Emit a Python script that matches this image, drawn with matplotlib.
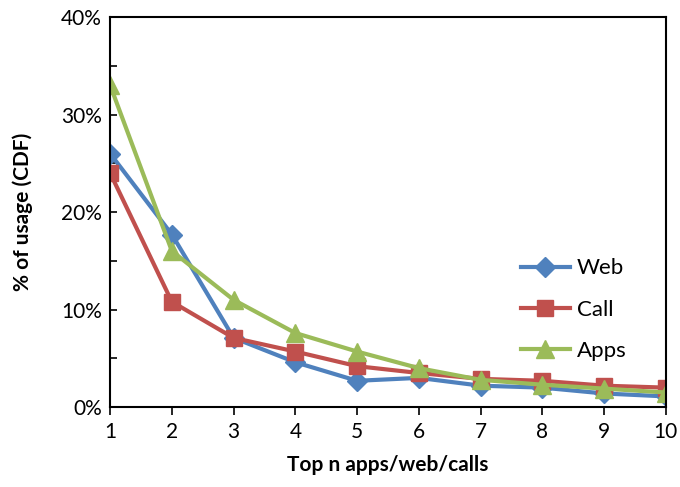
import matplotlib
matplotlib.use("Agg")
import matplotlib.pyplot as plt
from matplotlib.ticker import MultipleLocator, FuncFormatter

plt.rcParams['font.family'] = ['Lato', 'DejaVu Sans']

top_n = [1, 2, 3, 4, 5, 6, 7, 8, 9, 10]
web = [26.0, 17.7, 7.1, 4.6, 2.7, 3.0, 2.2, 2.0, 1.4, 1.1]
call = [24.0, 10.8, 7.1, 5.7, 4.2, 3.5, 2.9, 2.7, 2.2, 2.0]
apps = [33.0, 16.0, 11.0, 7.6, 5.7, 4.0, 2.8, 2.3, 1.9, 1.5]

fig = plt.figure(figsize=(6.8, 4.87), dpi=100)
ax = fig.add_axes([0.162, 0.164, 0.817, 0.801])

ax.plot(top_n, web, color='#4F81BD', lw=3, marker='D', ms=10, label='Web')
ax.plot(top_n, call, color='#C0504D', lw=3, marker='s', ms=11, label='Call')
ax.plot(top_n, apps, color='#9BBB59', lw=3, marker='^', ms=13, label='Apps')

ax.set_xlim(1, 10)
ax.set_ylim(0, 40)
ax.set_xticks(top_n)
ax.yaxis.set_major_locator(MultipleLocator(10))
ax.yaxis.set_minor_locator(MultipleLocator(5))
ax.yaxis.set_major_formatter(FuncFormatter(lambda v, p: f"{v:.0f}%"))
ax.tick_params(axis='y', which='both', direction='in', length=5, width=1.2, labelsize=15, pad=6)
ax.tick_params(axis='x', direction='out', length=6, width=1.2, labelsize=15, pad=5)
for s in ax.spines.values():
    s.set_linewidth(1.5)

ax.set_xlabel('Top n apps/web/calls', fontsize=15, fontweight='bold', labelpad=9)
ax.set_ylabel('% of usage (CDF)', fontsize=15, fontweight='bold', labelpad=20)

ax.legend(loc='center right', bbox_to_anchor=(0.965, 0.25), frameon=False,
          fontsize=16, handlelength=2.2, labelspacing=0.95, handletextpad=0.3)

fig.savefig('out.png', dpi=100)
